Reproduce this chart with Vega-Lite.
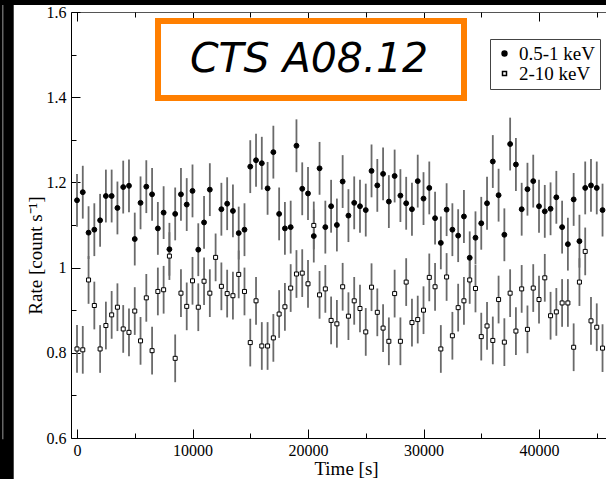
{
  "$schema": "https://vega.github.io/schema/vega-lite/v6.json",
  "width": 535,
  "height": 426,
  "autosize": {"type": "none"},
  "padding": {"left": 71, "top": 12, "right": 0, "bottom": 41},
  "background": "white",
  "config": {
    "view": {"stroke": null},
    "axis": {
      "grid": false,
      "labelFont": "Liberation Serif",
      "labelFontSize": 16,
      "labelColor": "black",
      "labelFlush": false,
      "labelOverlap": false,
      "tickColor": "black",
      "tickWidth": 1,
      "domainColor": "black",
      "domainWidth": 1,
      "titleFont": "Liberation Serif",
      "titleFontSize": 19,
      "titleFontWeight": "normal",
      "titleColor": "black"
    }
  },
  "datasets": {
    "lc": [
      {"t": 0, "band": "0.5-1 keV", "rate": 1.158, "err": 0.062},
      {"t": 500, "band": "0.5-1 keV", "rate": 1.177, "err": 0.062},
      {"t": 1000, "band": "0.5-1 keV", "rate": 1.082, "err": 0.062},
      {"t": 1500, "band": "0.5-1 keV", "rate": 1.089, "err": 0.062},
      {"t": 2000, "band": "0.5-1 keV", "rate": 1.111, "err": 0.062},
      {"t": 2500, "band": "0.5-1 keV", "rate": 1.168, "err": 0.062},
      {"t": 3000, "band": "0.5-1 keV", "rate": 1.168, "err": 0.062},
      {"t": 3500, "band": "0.5-1 keV", "rate": 1.140, "err": 0.062},
      {"t": 4000, "band": "0.5-1 keV", "rate": 1.189, "err": 0.062},
      {"t": 4500, "band": "0.5-1 keV", "rate": 1.192, "err": 0.062},
      {"t": 5000, "band": "0.5-1 keV", "rate": 1.067, "err": 0.062},
      {"t": 5500, "band": "0.5-1 keV", "rate": 1.152, "err": 0.062},
      {"t": 6000, "band": "0.5-1 keV", "rate": 1.190, "err": 0.062},
      {"t": 6500, "band": "0.5-1 keV", "rate": 1.172, "err": 0.062},
      {"t": 7000, "band": "0.5-1 keV", "rate": 1.092, "err": 0.062},
      {"t": 7500, "band": "0.5-1 keV", "rate": 1.129, "err": 0.062},
      {"t": 8000, "band": "0.5-1 keV", "rate": 1.043, "err": 0.062},
      {"t": 8500, "band": "0.5-1 keV", "rate": 1.126, "err": 0.062},
      {"t": 9000, "band": "0.5-1 keV", "rate": 1.172, "err": 0.062},
      {"t": 9500, "band": "0.5-1 keV", "rate": 1.148, "err": 0.062},
      {"t": 10000, "band": "0.5-1 keV", "rate": 1.180, "err": 0.062},
      {"t": 10500, "band": "0.5-1 keV", "rate": 1.042, "err": 0.062},
      {"t": 11000, "band": "0.5-1 keV", "rate": 1.106, "err": 0.062},
      {"t": 11500, "band": "0.5-1 keV", "rate": 1.183, "err": 0.062},
      {"t": 12500, "band": "0.5-1 keV", "rate": 1.137, "err": 0.062},
      {"t": 13000, "band": "0.5-1 keV", "rate": 1.150, "err": 0.062},
      {"t": 13500, "band": "0.5-1 keV", "rate": 1.133, "err": 0.062},
      {"t": 14000, "band": "0.5-1 keV", "rate": 1.081, "err": 0.062},
      {"t": 14500, "band": "0.5-1 keV", "rate": 1.089, "err": 0.062},
      {"t": 15000, "band": "0.5-1 keV", "rate": 1.237, "err": 0.062},
      {"t": 15500, "band": "0.5-1 keV", "rate": 1.252, "err": 0.062},
      {"t": 16000, "band": "0.5-1 keV", "rate": 1.245, "err": 0.062},
      {"t": 16500, "band": "0.5-1 keV", "rate": 1.186, "err": 0.062},
      {"t": 17000, "band": "0.5-1 keV", "rate": 1.271, "err": 0.062},
      {"t": 17500, "band": "0.5-1 keV", "rate": 1.126, "err": 0.062},
      {"t": 18000, "band": "0.5-1 keV", "rate": 1.092, "err": 0.062},
      {"t": 18500, "band": "0.5-1 keV", "rate": 1.095, "err": 0.062},
      {"t": 19000, "band": "0.5-1 keV", "rate": 1.286, "err": 0.062},
      {"t": 19500, "band": "0.5-1 keV", "rate": 1.185, "err": 0.062},
      {"t": 20000, "band": "0.5-1 keV", "rate": 1.174, "err": 0.062},
      {"t": 20500, "band": "0.5-1 keV", "rate": 1.074, "err": 0.062},
      {"t": 21000, "band": "0.5-1 keV", "rate": 1.233, "err": 0.062},
      {"t": 21500, "band": "0.5-1 keV", "rate": 1.095, "err": 0.062},
      {"t": 22000, "band": "0.5-1 keV", "rate": 1.144, "err": 0.062},
      {"t": 22500, "band": "0.5-1 keV", "rate": 1.100, "err": 0.062},
      {"t": 23000, "band": "0.5-1 keV", "rate": 1.202, "err": 0.062},
      {"t": 23500, "band": "0.5-1 keV", "rate": 1.122, "err": 0.062},
      {"t": 24000, "band": "0.5-1 keV", "rate": 1.152, "err": 0.062},
      {"t": 24500, "band": "0.5-1 keV", "rate": 1.144, "err": 0.062},
      {"t": 25000, "band": "0.5-1 keV", "rate": 1.135, "err": 0.062},
      {"t": 25500, "band": "0.5-1 keV", "rate": 1.227, "err": 0.062},
      {"t": 26000, "band": "0.5-1 keV", "rate": 1.193, "err": 0.062},
      {"t": 26500, "band": "0.5-1 keV", "rate": 1.220, "err": 0.062},
      {"t": 27000, "band": "0.5-1 keV", "rate": 1.155, "err": 0.062},
      {"t": 27500, "band": "0.5-1 keV", "rate": 1.215, "err": 0.062},
      {"t": 28000, "band": "0.5-1 keV", "rate": 1.169, "err": 0.062},
      {"t": 28500, "band": "0.5-1 keV", "rate": 1.151, "err": 0.062},
      {"t": 29000, "band": "0.5-1 keV", "rate": 1.137, "err": 0.062},
      {"t": 29500, "band": "0.5-1 keV", "rate": 1.203, "err": 0.062},
      {"t": 30000, "band": "0.5-1 keV", "rate": 1.162, "err": 0.062},
      {"t": 30500, "band": "0.5-1 keV", "rate": 1.187, "err": 0.062},
      {"t": 31000, "band": "0.5-1 keV", "rate": 1.116, "err": 0.062},
      {"t": 31500, "band": "0.5-1 keV", "rate": 1.058, "err": 0.062},
      {"t": 32000, "band": "0.5-1 keV", "rate": 1.136, "err": 0.062},
      {"t": 32500, "band": "0.5-1 keV", "rate": 1.089, "err": 0.062},
      {"t": 33000, "band": "0.5-1 keV", "rate": 1.075, "err": 0.062},
      {"t": 33500, "band": "0.5-1 keV", "rate": 1.120, "err": 0.062},
      {"t": 34000, "band": "0.5-1 keV", "rate": 1.023, "err": 0.062},
      {"t": 34500, "band": "0.5-1 keV", "rate": 1.070, "err": 0.062},
      {"t": 35000, "band": "0.5-1 keV", "rate": 1.104, "err": 0.062},
      {"t": 35500, "band": "0.5-1 keV", "rate": 1.151, "err": 0.062},
      {"t": 36000, "band": "0.5-1 keV", "rate": 1.249, "err": 0.062},
      {"t": 36500, "band": "0.5-1 keV", "rate": 1.170, "err": 0.062},
      {"t": 37000, "band": "0.5-1 keV", "rate": 1.077, "err": 0.062},
      {"t": 37500, "band": "0.5-1 keV", "rate": 1.290, "err": 0.062},
      {"t": 38000, "band": "0.5-1 keV", "rate": 1.242, "err": 0.062},
      {"t": 38500, "band": "0.5-1 keV", "rate": 1.137, "err": 0.062},
      {"t": 39000, "band": "0.5-1 keV", "rate": 1.184, "err": 0.062},
      {"t": 39500, "band": "0.5-1 keV", "rate": 1.203, "err": 0.062},
      {"t": 40000, "band": "0.5-1 keV", "rate": 1.144, "err": 0.062},
      {"t": 40500, "band": "0.5-1 keV", "rate": 1.132, "err": 0.062},
      {"t": 41000, "band": "0.5-1 keV", "rate": 1.138, "err": 0.062},
      {"t": 41500, "band": "0.5-1 keV", "rate": 1.165, "err": 0.062},
      {"t": 42000, "band": "0.5-1 keV", "rate": 1.095, "err": 0.062},
      {"t": 42500, "band": "0.5-1 keV", "rate": 1.055, "err": 0.062},
      {"t": 43000, "band": "0.5-1 keV", "rate": 1.160, "err": 0.062},
      {"t": 43500, "band": "0.5-1 keV", "rate": 1.062, "err": 0.062},
      {"t": 44000, "band": "0.5-1 keV", "rate": 1.187, "err": 0.062},
      {"t": 44500, "band": "0.5-1 keV", "rate": 1.193, "err": 0.062},
      {"t": 45000, "band": "0.5-1 keV", "rate": 1.187, "err": 0.062},
      {"t": 45500, "band": "0.5-1 keV", "rate": 1.135, "err": 0.062},
      {"t": 0, "band": "2-10 keV", "rate": 0.809, "err": 0.056},
      {"t": 500, "band": "2-10 keV", "rate": 0.807, "err": 0.056},
      {"t": 1000, "band": "2-10 keV", "rate": 0.971, "err": 0.056},
      {"t": 1500, "band": "2-10 keV", "rate": 0.911, "err": 0.056},
      {"t": 2000, "band": "2-10 keV", "rate": 0.809, "err": 0.056},
      {"t": 2500, "band": "2-10 keV", "rate": 0.864, "err": 0.056},
      {"t": 3000, "band": "2-10 keV", "rate": 0.889, "err": 0.056},
      {"t": 3500, "band": "2-10 keV", "rate": 0.907, "err": 0.056},
      {"t": 4000, "band": "2-10 keV", "rate": 0.856, "err": 0.056},
      {"t": 4500, "band": "2-10 keV", "rate": 0.848, "err": 0.056},
      {"t": 5000, "band": "2-10 keV", "rate": 0.898, "err": 0.056},
      {"t": 5500, "band": "2-10 keV", "rate": 0.828, "err": 0.056},
      {"t": 6000, "band": "2-10 keV", "rate": 0.929, "err": 0.056},
      {"t": 6500, "band": "2-10 keV", "rate": 0.805, "err": 0.056},
      {"t": 7000, "band": "2-10 keV", "rate": 0.944, "err": 0.056},
      {"t": 7500, "band": "2-10 keV", "rate": 0.948, "err": 0.056},
      {"t": 8000, "band": "2-10 keV", "rate": 1.027, "err": 0.056},
      {"t": 8500, "band": "2-10 keV", "rate": 0.787, "err": 0.056},
      {"t": 9000, "band": "2-10 keV", "rate": 0.940, "err": 0.056},
      {"t": 9500, "band": "2-10 keV", "rate": 0.909, "err": 0.056},
      {"t": 10000, "band": "2-10 keV", "rate": 0.969, "err": 0.056},
      {"t": 10500, "band": "2-10 keV", "rate": 0.907, "err": 0.056},
      {"t": 11000, "band": "2-10 keV", "rate": 0.968, "err": 0.056},
      {"t": 11500, "band": "2-10 keV", "rate": 0.940, "err": 0.056},
      {"t": 12000, "band": "2-10 keV", "rate": 1.024, "err": 0.056},
      {"t": 12500, "band": "2-10 keV", "rate": 0.956, "err": 0.056},
      {"t": 13000, "band": "2-10 keV", "rate": 0.939, "err": 0.056},
      {"t": 13500, "band": "2-10 keV", "rate": 0.934, "err": 0.056},
      {"t": 14000, "band": "2-10 keV", "rate": 0.984, "err": 0.056},
      {"t": 14500, "band": "2-10 keV", "rate": 0.944, "err": 0.056},
      {"t": 15000, "band": "2-10 keV", "rate": 0.824, "err": 0.056},
      {"t": 15500, "band": "2-10 keV", "rate": 0.922, "err": 0.056},
      {"t": 16000, "band": "2-10 keV", "rate": 0.816, "err": 0.056},
      {"t": 16500, "band": "2-10 keV", "rate": 0.816, "err": 0.056},
      {"t": 17000, "band": "2-10 keV", "rate": 0.835, "err": 0.056},
      {"t": 17500, "band": "2-10 keV", "rate": 0.891, "err": 0.056},
      {"t": 18000, "band": "2-10 keV", "rate": 0.908, "err": 0.056},
      {"t": 18500, "band": "2-10 keV", "rate": 0.952, "err": 0.056},
      {"t": 19000, "band": "2-10 keV", "rate": 0.985, "err": 0.056},
      {"t": 19500, "band": "2-10 keV", "rate": 0.987, "err": 0.056},
      {"t": 20000, "band": "2-10 keV", "rate": 0.962, "err": 0.056},
      {"t": 20500, "band": "2-10 keV", "rate": 1.099, "err": 0.056},
      {"t": 21000, "band": "2-10 keV", "rate": 0.936, "err": 0.056},
      {"t": 21500, "band": "2-10 keV", "rate": 0.950, "err": 0.056},
      {"t": 22000, "band": "2-10 keV", "rate": 0.876, "err": 0.056},
      {"t": 22500, "band": "2-10 keV", "rate": 0.868, "err": 0.056},
      {"t": 23000, "band": "2-10 keV", "rate": 0.955, "err": 0.056},
      {"t": 23500, "band": "2-10 keV", "rate": 0.886, "err": 0.056},
      {"t": 24000, "band": "2-10 keV", "rate": 0.922, "err": 0.056},
      {"t": 24500, "band": "2-10 keV", "rate": 0.904, "err": 0.056},
      {"t": 25000, "band": "2-10 keV", "rate": 0.849, "err": 0.056},
      {"t": 25500, "band": "2-10 keV", "rate": 0.954, "err": 0.056},
      {"t": 26000, "band": "2-10 keV", "rate": 0.895, "err": 0.056},
      {"t": 26500, "band": "2-10 keV", "rate": 0.858, "err": 0.056},
      {"t": 27000, "band": "2-10 keV", "rate": 0.827, "err": 0.056},
      {"t": 27500, "band": "2-10 keV", "rate": 0.939, "err": 0.056},
      {"t": 28000, "band": "2-10 keV", "rate": 0.827, "err": 0.056},
      {"t": 28500, "band": "2-10 keV", "rate": 0.966, "err": 0.056},
      {"t": 29000, "band": "2-10 keV", "rate": 0.871, "err": 0.056},
      {"t": 29500, "band": "2-10 keV", "rate": 0.878, "err": 0.056},
      {"t": 30000, "band": "2-10 keV", "rate": 0.900, "err": 0.056},
      {"t": 30500, "band": "2-10 keV", "rate": 0.977, "err": 0.056},
      {"t": 31000, "band": "2-10 keV", "rate": 0.955, "err": 0.056},
      {"t": 31500, "band": "2-10 keV", "rate": 0.809, "err": 0.056},
      {"t": 32000, "band": "2-10 keV", "rate": 0.978, "err": 0.056},
      {"t": 32500, "band": "2-10 keV", "rate": 0.840, "err": 0.056},
      {"t": 33000, "band": "2-10 keV", "rate": 0.906, "err": 0.056},
      {"t": 33500, "band": "2-10 keV", "rate": 0.922, "err": 0.056},
      {"t": 34000, "band": "2-10 keV", "rate": 0.971, "err": 0.056},
      {"t": 34500, "band": "2-10 keV", "rate": 0.951, "err": 0.056},
      {"t": 35000, "band": "2-10 keV", "rate": 0.838, "err": 0.056},
      {"t": 35500, "band": "2-10 keV", "rate": 0.863, "err": 0.056},
      {"t": 36000, "band": "2-10 keV", "rate": 0.829, "err": 0.056},
      {"t": 36500, "band": "2-10 keV", "rate": 0.925, "err": 0.056},
      {"t": 37000, "band": "2-10 keV", "rate": 0.825, "err": 0.056},
      {"t": 37500, "band": "2-10 keV", "rate": 0.940, "err": 0.056},
      {"t": 38000, "band": "2-10 keV", "rate": 0.851, "err": 0.056},
      {"t": 38500, "band": "2-10 keV", "rate": 0.950, "err": 0.056},
      {"t": 39000, "band": "2-10 keV", "rate": 0.855, "err": 0.056},
      {"t": 39500, "band": "2-10 keV", "rate": 0.952, "err": 0.056},
      {"t": 40000, "band": "2-10 keV", "rate": 0.925, "err": 0.056},
      {"t": 40500, "band": "2-10 keV", "rate": 0.976, "err": 0.056},
      {"t": 41000, "band": "2-10 keV", "rate": 0.887, "err": 0.056},
      {"t": 41500, "band": "2-10 keV", "rate": 0.896, "err": 0.056},
      {"t": 42000, "band": "2-10 keV", "rate": 0.917, "err": 0.056},
      {"t": 42500, "band": "2-10 keV", "rate": 0.917, "err": 0.056},
      {"t": 43000, "band": "2-10 keV", "rate": 0.813, "err": 0.056},
      {"t": 43500, "band": "2-10 keV", "rate": 0.966, "err": 0.056},
      {"t": 44000, "band": "2-10 keV", "rate": 1.038, "err": 0.056},
      {"t": 44500, "band": "2-10 keV", "rate": 0.875, "err": 0.056},
      {"t": 45000, "band": "2-10 keV", "rate": 0.860, "err": 0.056},
      {"t": 45500, "band": "2-10 keV", "rate": 0.811, "err": 0.056}
    ]
  },
  "resolve": {"axis": {"x": "independent", "y": "independent"}},
  "layer": [
    {
      "data": {"name": "lc"},
      "mark": {"type": "errorbar", "color": "#6a6a6a", "thickness": 1.8},
      "encoding": {
        "x": {
          "field": "t", "type": "quantitative",
          "scale": {"domain": [-520, 45800], "nice": false, "zero": false},
          "axis": {
            "orient": "bottom", "values": [0, 10000, 20000, 30000, 40000], "format": "d",
            "tickSize": -9, "labelPadding": 26, "labelBaseline": "alphabetic",
            "title": "Time [s]", "titleX": 275, "titleY": 36,
            "titleBaseline": "alphabetic", "titleAlign": "center", "titleAnchor": null
          }
        },
        "y": {
          "field": "rate", "type": "quantitative",
          "scale": {"domain": [0.6, 1.6], "nice": false, "zero": false},
          "axis": {
            "orient": "left", "values": [0.6, 0.8, 1, 1.2, 1.4, 1.6], "format": "~g",
            "tickSize": -9, "labelPadding": 14,
            "title": "Rate [count s⁻¹]", "titleX": -30, "titleY": 243, "titleAngle": 270,
            "titleBaseline": "alphabetic", "titleAlign": "center", "titleAnchor": null
          }
        },
        "yError": {"field": "err"}
      }
    },
    {
      "data": {"name": "lc"},
      "mark": {"type": "point", "stroke": "black", "strokeWidth": 1, "opacity": 1},
      "encoding": {
        "x": {
          "field": "t", "type": "quantitative",
          "scale": {"domain": [-520, 45800], "nice": false, "zero": false},
          "axis": {
            "orient": "bottom", "values": [5000, 15000, 25000, 35000, 45000],
            "tickSize": -5, "labels": false, "domain": false, "title": null
          }
        },
        "y": {
          "field": "rate", "type": "quantitative",
          "scale": {"domain": [0.6, 1.6], "nice": false, "zero": false},
          "axis": {
            "orient": "left", "values": [0.7, 0.9, 1.1, 1.3, 1.5],
            "tickSize": -5, "labels": false, "domain": false, "title": null
          }
        },
        "shape": {
          "field": "band", "type": "nominal",
          "scale": {"domain": ["0.5-1 keV", "2-10 keV"], "range": ["circle", "square"]},
          "legend": {
            "orient": "none", "legendX": 419, "legendY": 27, "title": null,
            "padding": 5, "strokeColor": "#444", "fillColor": "white",
            "labelFont": "Liberation Serif", "labelFontSize": 19, "labelColor": "black",
            "symbolOffset": 0, "labelOffset": 5, "rowPadding": 0,
            "encode": {
              "symbols": {
                "update": {
                  "stroke": {"value": "black"},
                  "strokeWidth": {"value": 1}
                }
              }
            }
          }
        },
        "fill": {
          "field": "band", "type": "nominal",
          "scale": {"domain": ["0.5-1 keV", "2-10 keV"], "range": ["black", "white"]}
        },
        "size": {
          "field": "band", "type": "nominal",
          "scale": {"domain": ["0.5-1 keV", "2-10 keV"], "range": [24, 16]}
        }
      }
    },
    {
      "data": {"values": [{}]},
      "mark": {"type": "rect", "fill": "white", "stroke": "#ff7f00", "strokeWidth": 6},
      "encoding": {
        "x": {
          "datum": 7013, "type": "quantitative",
          "scale": {"domain": [-520, 45800], "nice": false, "zero": false},
          "axis": {
            "orient": "top", "values": [0, 10000, 20000, 30000, 40000],
            "tickSize": -9, "labels": false, "domainColor": "#555", "title": null
          }
        },
        "x2": {"datum": 33506},
        "y": {
          "datum": 1.579, "type": "quantitative",
          "scale": {"domain": [0.6, 1.6], "nice": false, "zero": false},
          "axis": null
        },
        "y2": {"datum": 1.398}
      }
    },
    {
      "data": {"values": [{}]},
      "mark": {
        "type": "text", "text": "CTS A08.12", "font": "DejaVu Sans", "fontStyle": "italic",
        "fontSize": 41, "align": "center", "baseline": "middle", "color": "black"
      },
      "encoding": {
        "x": {
          "datum": 20087, "type": "quantitative",
          "scale": {"domain": [-520, 45800], "nice": false, "zero": false},
          "axis": {
            "orient": "top", "values": [5000, 15000, 25000, 35000, 45000],
            "tickSize": -5, "labels": false, "domain": false, "title": null
          }
        },
        "y": {
          "datum": 1.487, "type": "quantitative",
          "scale": {"domain": [0.6, 1.6], "nice": false, "zero": false},
          "axis": null
        }
      }
    },
    {
      "data": {"values": [{}]},
      "mark": {"type": "rect", "color": "black"},
      "encoding": {
        "x": {"datum": -7200, "type": "quantitative", "scale": {"domain": [-520, 45800], "nice": false, "zero": false}, "axis": null},
        "x2": {"datum": -5480},
        "y": {"datum": 0.45, "type": "quantitative", "scale": {"domain": [0.6, 1.6], "nice": false, "zero": false}, "axis": null},
        "y2": {"datum": 1.65}
      }
    },
    {
      "data": {"values": [{}]},
      "mark": {"type": "rect", "color": "#666"},
      "encoding": {
        "x": {"datum": -6494, "type": "quantitative", "scale": {"domain": [-520, 45800], "nice": false, "zero": false}, "axis": null},
        "x2": {"datum": -6364},
        "y": {"datum": 0.597, "type": "quantitative", "scale": {"domain": [0.6, 1.6], "nice": false, "zero": false}, "axis": null},
        "y2": {"datum": 1.65}
      }
    },
    {
      "data": {"values": [{}]},
      "mark": {"type": "rect", "color": "black"},
      "encoding": {
        "x": {"datum": -7200, "type": "quantitative", "scale": {"domain": [-520, 45800], "nice": false, "zero": false}, "axis": null},
        "x2": {"datum": 50000},
        "y": {"datum": 1.6165, "type": "quantitative", "scale": {"domain": [0.6, 1.6], "nice": false, "zero": false}, "axis": null},
        "y2": {"datum": 1.65}
      }
    }
  ]
}
